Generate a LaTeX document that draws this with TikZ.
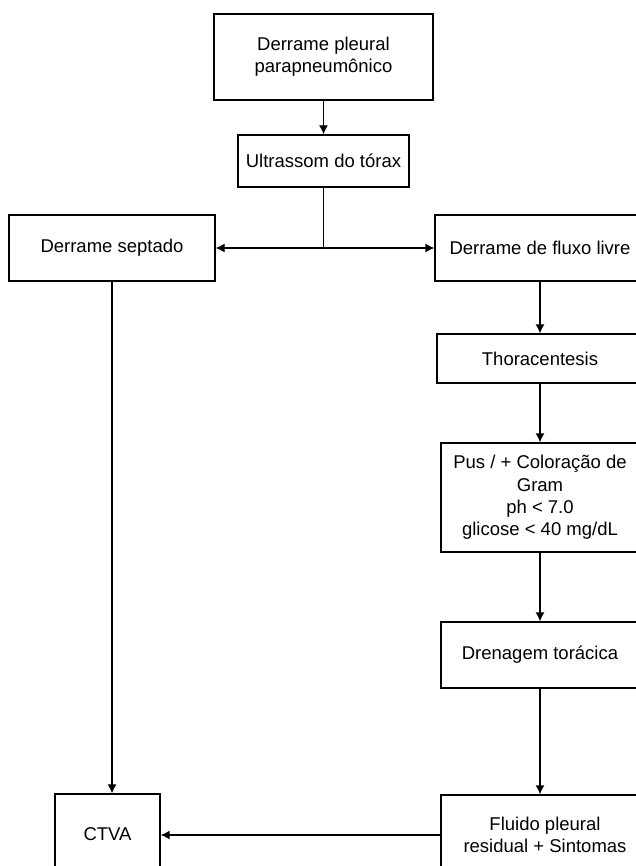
\documentclass[tikz,border=0pt]{standalone}
\usepackage{fontspec}
\setmainfont{Liberation Sans}
\usetikzlibrary{arrows.meta,positioning}

\tikzset{
    block/.style={rectangle, draw, line width=1.3pt, align=center, inner sep=0pt,
                  font=\fontsize{18.5}{22.2}\selectfont},
    link/.style={line width=1.3pt}
}

\begin{document}
\begin{tikzpicture}[
                        x=1pt, y=-1pt,
                        >={Latex[length=9pt,width=9pt]}
                    ]
                    \useasboundingbox (0,0) rectangle (635,866);
                    % Blocks
                    \node [block, minimum width=219pt, minimum height=86pt] (pleural) at (323.5,57) {Derrame pleural\\parapneumônico};
                    \node [block, minimum width=171pt, minimum height=52pt] (ultra) at (323.5,161) {Ultrassom do tórax};
                    \node [coordinate] (split) at (323.5,248) {};
                    \node [block, minimum width=206pt, minimum height=66pt] (septado) at (112,248) {Derrame septado};
                    \node [block, minimum width=210pt, minimum height=66pt] (livre) at (540,248) {Derrame de fluxo livre};
                    \node [block, minimum width=206pt, minimum height=49pt] (thora) at (540,358.5) {Thoracentesis};
                    \node [block, minimum width=198pt, minimum height=109pt] (pus) at (540,497.5) {Pus / + Coloração de\\Gram\\ph < 7.0\\glicose < 40 mg/dL};
                    \node [block, minimum width=198pt, minimum height=66pt] (dren) at (540,655) {Drenagem torácica};
                    \node [block, minimum width=208pt, minimum height=80pt] (fluido) at (545,835) {Fluido pleural\\residual + Sintomas};
                    \node [block, minimum width=105pt, minimum height=80pt] (ctva) at (107.5,834) {CTVA};

                    % Connections
                    \draw [link,->] (pleural) -- (ultra);
                    \draw [link,line width=1.8pt] (ultra) -- (split);
                    \draw [link,->] (split) -- (septado);
                    \draw [link,->] (split) -- (livre);
                    \draw [link,->] (livre) -- (thora);
                    \draw [link,->] (thora) -- (pus);
                    \draw [link,->] (pus) -- (dren);
                    \draw [link,->] (dren) -- (dren |- fluido.north);
                    \draw [link,->] (septado.south) -- (septado.south |- ctva.north);
                    \draw [link,->] (fluido.west) -- (fluido.west -| ctva.east);
                \end{tikzpicture}
\end{document}
